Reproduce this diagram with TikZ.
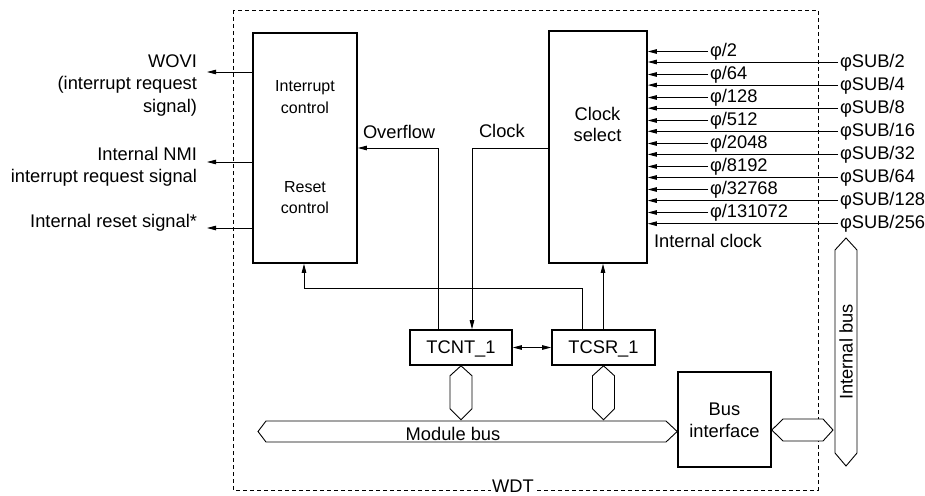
\documentclass[tikz,border=0pt]{standalone}
\usepackage{fontspec}
\setmainfont{Liberation Sans}
\usetikzlibrary{arrows.meta}
\begin{document}
\begin{tikzpicture}[x=1pt,y=-1pt,
  every node/.style={inner sep=0pt, outer sep=0pt},
  txt/.style={font=\fontsize{18.3}{20}\selectfont},
  stxt/.style={font=\fontsize{16}{20}\selectfont},
  blk/.style={draw, line width=1.6pt, outer sep=0.8pt},
  wire/.style={line width=0.9pt},
  arr/.style={wire, -{Triangle[length=9pt,width=4.5pt]}},
  darr/.style={wire, {Triangle[length=9pt,width=4.5pt]}-{Triangle[length=9pt,width=4.5pt]}},
  bus/.style={draw, line width=0.9pt, fill=white, line join=miter},
]
\useasboundingbox (0,0) rectangle (925,495);
\fill[white] (0,0) rectangle (925,495);

% WDT frame
\draw[wire, dash pattern=on 4pt off 3pt] (233,10) rectangle (818,490);
\node[txt, anchor=base, fill=white, inner xsep=1.5pt] (wdt) at (513,492.5) {WDT};

% blocks
\node[blk, minimum width=104, minimum height=230] (ctl) at (305,148) {};
\node[blk, minimum width=98, minimum height=232] (cs) at (598,147) {};
\node[blk, minimum width=102, minimum height=35] (tcnt) at (461,347.5) {};
\node[blk, minimum width=103, minimum height=35] (tcsr) at (603.5,347.5) {};
\node[blk, minimum width=93, minimum height=95] (bif) at (724.5,419.5) {};

% block texts
\node[stxt, anchor=base] (ic1) at (305,91) {Interrupt};
\node[stxt, anchor=base] (ic2) at (305,113) {control};
\node[stxt, anchor=base] (rc1) at (305,192) {Reset};
\node[stxt, anchor=base] (rc2) at (305,213) {control};
\node[txt, anchor=base] (cs1) at (597.5,120) {Clock};
\node[txt, anchor=base] (cs2) at (597.5,141) {select};
\node[txt, anchor=base] (tcntl) at (461,353.5) {TCNT\_1};
\node[txt, anchor=base] (tcsrl) at (603.5,353.5) {TCSR\_1};
\node[txt, anchor=base] (bif1) at (724.5,415) {Bus};
\node[txt, anchor=base] (bif2) at (724.5,437) {interface};

% left outputs
\coordinate (o1) at (207,72);
\coordinate (o2) at (207,162);
\coordinate (o3) at (207,228);
\draw[arr] (ctl.west |- o1) -- (o1);
\draw[arr] (ctl.west |- o2) -- (o2);
\draw[arr] (ctl.west |- o3) -- (o3);
\node[txt, anchor=base east] (w1) at (197,67) {WOVI};
\node[txt, anchor=base east] (w2) at (197,89.5) {(interrupt request};
\node[txt, anchor=base east] (w3) at (197,112) {signal)};
\node[txt, anchor=base east] (n1) at (197,160) {Internal NMI};
\node[txt, anchor=base east] (n2) at (197,182) {interrupt request signal};
\node[txt, anchor=base east] (r1) at (197,227) {Internal reset signal*};

% clock inputs
\foreach \i/\d in {0/2,1/64,2/128,3/512,4/2048,5/8192,6/32768,7/131072} {
  \coordinate (p\i) at (708,51.5+23*\i);
  \draw[arr] (p\i) -- (cs.east |- p\i);
  \node[txt, anchor=base west] (pl\i) at (710,56.5+23*\i) {φ/\d};
}
\foreach \i/\d in {0/2,1/4,2/8,3/16,4/32,5/64,6/128,7/256} {
  \coordinate (s\i) at (838,62+23.1*\i);
  \draw[arr] (s\i) -- (cs.east |- s\i);
  \node[txt, anchor=base west] (sl\i) at (840,67.2+23.1*\i) {φSUB/\d};
}
\node[txt, anchor=base west] (iclk) at (654,247) {Internal clock};

% internal connections
\node[txt, anchor=base west] (ovl) at (363,138) {Overflow};
\node[txt, anchor=base west] (ckl) at (479,137) {Clock};
\coordinate (ovc) at (438,148);
\draw[arr] (tcnt.north -| ovc) -- (ovc) -- (ctl.east |- ovc);
\coordinate (ckc) at (472,148);
\draw[arr] (cs.west |- ckc) -- (ckc) -- (tcnt.north -| ckc);
\coordinate (rs1) at (582,288);
\coordinate (rs2) at (304,288);
\draw[arr] (tcsr.north -| rs1) -- (rs1) -- (rs2) -- (ctl.south -| rs2);
\coordinate (up) at (603,300);
\draw[arr] (tcsr.north -| up) -- (cs.south -| up);
\draw[darr] (tcnt.east) -- (tcsr.west);

% buses
\draw[bus] (tcnt.south) -- ++(11,10) -- ++(0,33) -- ++(-11,11) -- ++(-11,-11) -- ++(0,-33) -- cycle;
\draw[bus] (tcsr.south) -- ++(11,10) -- ++(0,33) -- ++(-11,11) -- ++(-11,-11) -- ++(0,-33) -- cycle;
\coordinate (mbr) at (677.2,431.5);
\draw[bus] (mbr) -- (666,421) -- (266,421) -- (258,431.5) -- (266,442) -- (666,442) -- cycle;
\node[txt, anchor=base] (mbl) at (453,440) {Module bus};
\coordinate (bir) at (771.8,430);
\draw[bus] (bir) -- (783,419) -- (823,419) -- (833,430) -- (823,441) -- (783,441) -- cycle;
\draw[bus] (846,238) -- (857,250) -- (857,453) -- (846,466) -- (835,453) -- (835,250) -- cycle;
\node[txt, rotate=90] (ibl) at (846,352) {Internal bus};
\end{tikzpicture}
\end{document}
